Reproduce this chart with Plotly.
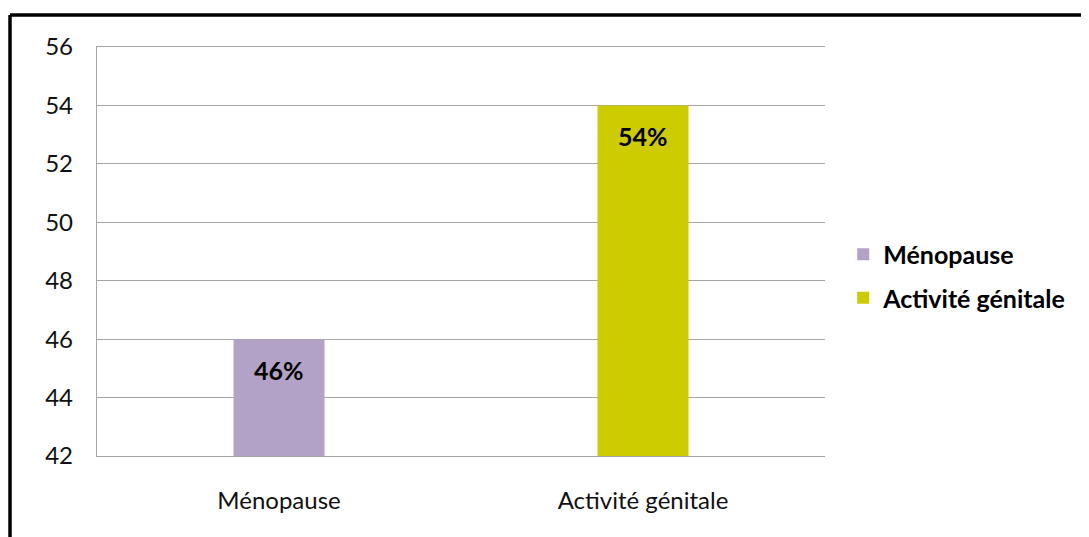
import plotly.graph_objects as go

categories = ["Ménopause", "Activité génitale"]
values = [46, 54]
labels = ["46%", "54%"]
colors = ["#B3A2C7", "#CCCC00"]
y_ticks = [42, 44, 46, 48, 50, 52, 54, 56]

FONT = "Lato"
GRID = "#A6A6A6"

fig = go.Figure()
for cat, val, col in zip(categories, values, colors):
    fig.add_trace(go.Bar(
        x=[cat], y=[val], name=cat, legendgroup=cat,
        marker=dict(color=col, line=dict(width=0)),
        width=0.25, cliponaxis=True,
    ))

for cat, val, lab in zip(categories, values, labels):
    fig.add_annotation(x=cat, y=val, text=lab, showarrow=False, xref="x", yref="y",
                       yanchor="top", yshift=-14,
                       font=dict(family=FONT, size=25, color="black", weight="bold"))

fig.update_layout(
    width=1081, height=529,
    margin=dict(l=89, r=264, t=39, b=81),
    paper_bgcolor="white", plot_bgcolor="white",
    barmode="overlay",
    font=dict(family=FONT, size=24, color="#111111"),
    showlegend=True,
    legend=dict(x=1.025, y=0.44, xanchor="left", yanchor="middle",
                font=dict(family=FONT, size=25, color="black", weight="bold"),
                tracegroupgap=8,
                itemsizing="constant", bgcolor="rgba(0,0,0,0)"),
    xaxis=dict(categoryorder="array", categoryarray=categories, showline=True,
               mirror=True, linecolor=GRID, linewidth=1.3,
               showgrid=False, ticks="", ticklabelstandoff=23,
               tickfont=dict(family=FONT, size=24, color="#111111")),
    yaxis=dict(range=[42, 56], tickvals=y_ticks, showgrid=True, gridcolor=GRID,
               gridwidth=1.3, showline=True, linecolor=GRID, linewidth=1.3,
               ticks="", ticklabelstandoff=18, zeroline=False,
               tickfont=dict(family=FONT, size=24, color="#111111")),
)

# outer chart border (top and left visible)
fig.add_shape(type="line", xref="paper", yref="paper", x0=-0.1195, x1=1.5, y0=1.078, y1=1.078,
              line=dict(color="black", width=3.5))
fig.add_shape(type="line", xref="paper", yref="paper", x0=-0.1195, x1=-0.1195, y0=1.078, y1=-0.3,
              line=dict(color="black", width=3.5))

fig.write_html("out.html")
